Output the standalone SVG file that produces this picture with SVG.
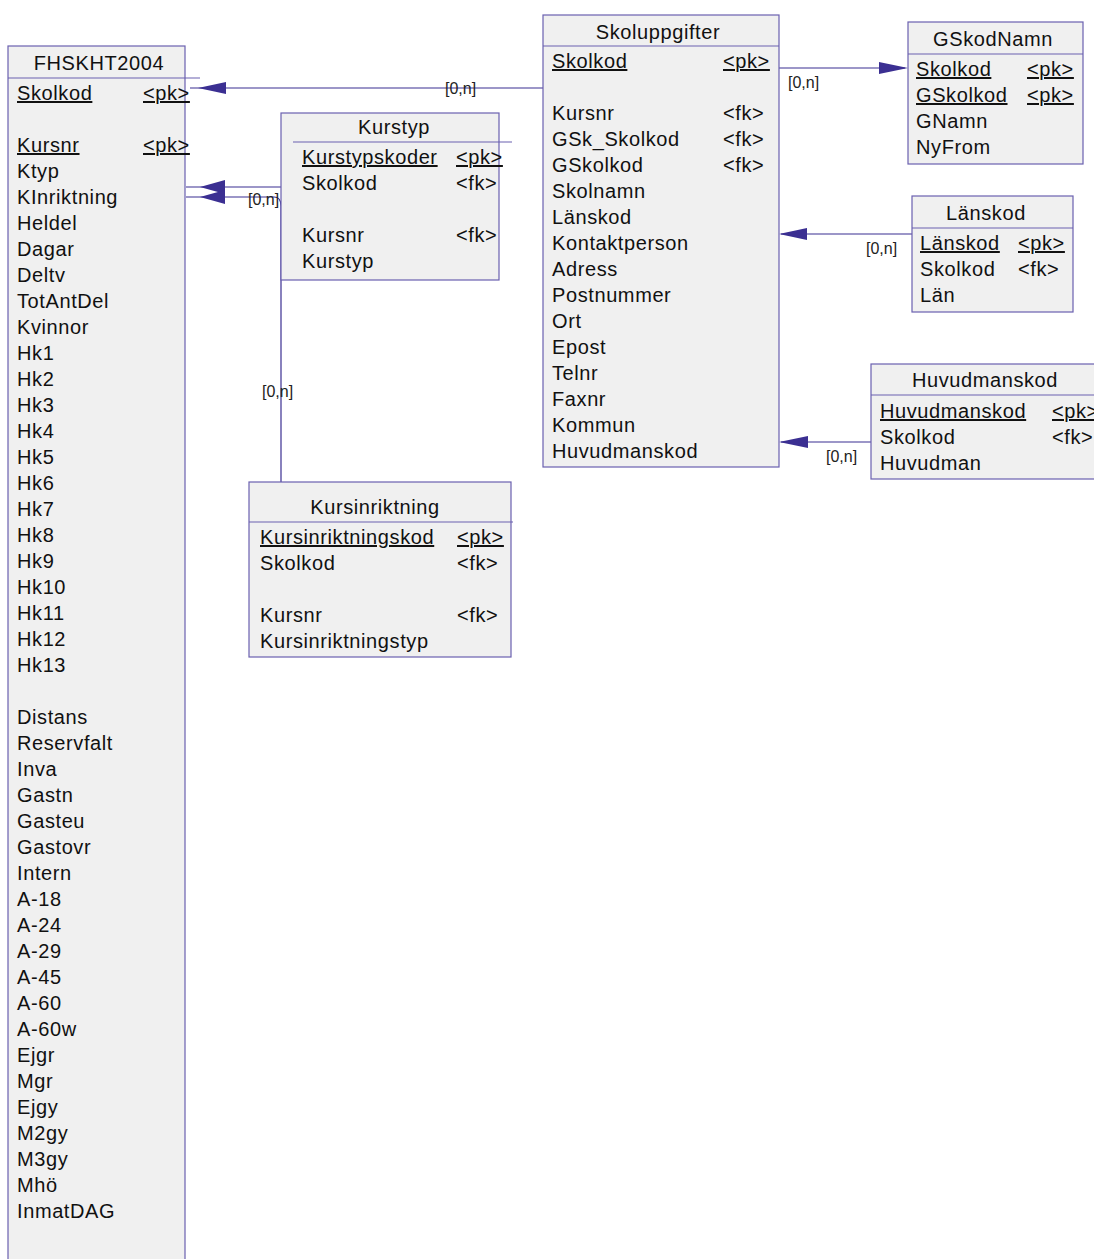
<svg xmlns="http://www.w3.org/2000/svg" width="1094" height="1259" viewBox="0 0 1094 1259">
<style>
.box{fill:#f0f0f0;stroke:#6a60b0;stroke-width:1.2}
.hl{stroke:#6a60b0;stroke-width:1.2}
.t{font-family:"Liberation Sans",Arial,sans-serif;font-size:20px;fill:#111;letter-spacing:0.6px}
.c{text-anchor:middle}
.u{text-decoration:underline}
.con{fill:none;stroke:#3b2f92;stroke-width:1.2}
.ah{fill:#3b2f92;stroke:none}
.lb{font-family:"Liberation Sans",Arial,sans-serif;font-size:16px;fill:#222}
</style>
<rect width="1094" height="1259" fill="#ffffff"/>
<g id="connectors">
<path class="con" d="M543,88 H190"/>
<polygon class="ah" points="198,88 226,82 226,94"/>
<text class="lb" x="445" y="94">[0,n]</text>
<path class="con" d="M281,187 H186"/>
<polygon class="ah" points="200,187 225,180 225,194"/>
<path class="con" d="M281,482 V206 Q281,197 274,197 H186"/>
<polygon class="ah" points="200,197 225,190 225,204"/>
<text class="lb" x="248" y="205">[0,n]</text>
<text class="lb" x="262" y="397">[0,n]</text>
<path class="con" d="M779,68 H905"/>
<polygon class="ah" points="908,68 879,62 879,74"/>
<text class="lb" x="788" y="88">[0,n]</text>
<path class="con" d="M912,234 H781"/>
<polygon class="ah" points="779,234 807,228 807,240"/>
<text class="lb" x="866" y="254">[0,n]</text>
<path class="con" d="M871,442 H781"/>
<polygon class="ah" points="779,442 808,436 808,448"/>
<text class="lb" x="826" y="462">[0,n]</text>
</g>
<g id="FHSKHT2004">
<rect class="box" x="8" y="46" width="177" height="1230"/>
<line class="hl" x1="8" y1="78" x2="200" y2="78"/>
<text class="t c" x="99" y="70">FHSKHT2004</text>
<text class="t u" x="17" y="100">Skolkod</text><text class="t u" x="143" y="100">&lt;pk&gt;</text>
<text class="t u" x="17" y="152">Kursnr</text><text class="t u" x="143" y="152">&lt;pk&gt;</text>
<text class="t" x="17" y="178">Ktyp</text>
<text class="t" x="17" y="204">KInriktning</text>
<text class="t" x="17" y="230">Heldel</text>
<text class="t" x="17" y="256">Dagar</text>
<text class="t" x="17" y="282">Deltv</text>
<text class="t" x="17" y="308">TotAntDel</text>
<text class="t" x="17" y="334">Kvinnor</text>
<text class="t" x="17" y="360">Hk1</text>
<text class="t" x="17" y="386">Hk2</text>
<text class="t" x="17" y="412">Hk3</text>
<text class="t" x="17" y="438">Hk4</text>
<text class="t" x="17" y="464">Hk5</text>
<text class="t" x="17" y="490">Hk6</text>
<text class="t" x="17" y="516">Hk7</text>
<text class="t" x="17" y="542">Hk8</text>
<text class="t" x="17" y="568">Hk9</text>
<text class="t" x="17" y="594">Hk10</text>
<text class="t" x="17" y="620">Hk11</text>
<text class="t" x="17" y="646">Hk12</text>
<text class="t" x="17" y="672">Hk13</text>
<text class="t" x="17" y="724">Distans</text>
<text class="t" x="17" y="750">Reservfalt</text>
<text class="t" x="17" y="776">Inva</text>
<text class="t" x="17" y="802">Gastn</text>
<text class="t" x="17" y="828">Gasteu</text>
<text class="t" x="17" y="854">Gastovr</text>
<text class="t" x="17" y="880">Intern</text>
<text class="t" x="17" y="906">A-18</text>
<text class="t" x="17" y="932">A-24</text>
<text class="t" x="17" y="958">A-29</text>
<text class="t" x="17" y="984">A-45</text>
<text class="t" x="17" y="1010">A-60</text>
<text class="t" x="17" y="1036">A-60w</text>
<text class="t" x="17" y="1062">Ejgr</text>
<text class="t" x="17" y="1088">Mgr</text>
<text class="t" x="17" y="1114">Ejgy</text>
<text class="t" x="17" y="1140">M2gy</text>
<text class="t" x="17" y="1166">M3gy</text>
<text class="t" x="17" y="1192">Mhö</text>
<text class="t" x="17" y="1218">InmatDAG</text>
</g>
<g id="Kurstyp">
<rect class="box" x="281" y="113" width="218" height="167"/>
<line class="hl" x1="293" y1="142" x2="512" y2="142"/>
<text class="t c" x="394" y="134">Kurstyp</text>
<text class="t u" x="302" y="164">Kurstypskoder</text><text class="t u" x="456" y="164">&lt;pk&gt;</text>
<text class="t" x="302" y="190">Skolkod</text><text class="t" x="456" y="190">&lt;fk&gt;</text>
<text class="t" x="302" y="242">Kursnr</text><text class="t" x="456" y="242">&lt;fk&gt;</text>
<text class="t" x="302" y="268">Kurstyp</text>
</g>
<g id="Kursinriktning">
<rect class="box" x="249" y="482" width="262" height="175"/>
<line class="hl" x1="249" y1="522" x2="513" y2="522"/>
<text class="t c" x="375" y="514">Kursinriktning</text>
<text class="t u" x="260" y="544">Kursinriktningskod</text><text class="t u" x="457" y="544">&lt;pk&gt;</text>
<text class="t" x="260" y="570">Skolkod</text><text class="t" x="457" y="570">&lt;fk&gt;</text>
<text class="t" x="260" y="622">Kursnr</text><text class="t" x="457" y="622">&lt;fk&gt;</text>
<text class="t" x="260" y="648">Kursinriktningstyp</text>
</g>
<g id="Skoluppgifter">
<rect class="box" x="543" y="15" width="236" height="452"/>
<line class="hl" x1="543" y1="46" x2="779" y2="46"/>
<text class="t c" x="658" y="39">Skoluppgifter</text>
<text class="t u" x="552" y="68">Skolkod</text><text class="t u" x="723" y="68">&lt;pk&gt;</text>
<text class="t" x="552" y="120">Kursnr</text><text class="t" x="723" y="120">&lt;fk&gt;</text>
<text class="t" x="552" y="146">GSk_Skolkod</text><text class="t" x="723" y="146">&lt;fk&gt;</text>
<text class="t" x="552" y="172">GSkolkod</text><text class="t" x="723" y="172">&lt;fk&gt;</text>
<text class="t" x="552" y="198">Skolnamn</text>
<text class="t" x="552" y="224">Länskod</text>
<text class="t" x="552" y="250">Kontaktperson</text>
<text class="t" x="552" y="276">Adress</text>
<text class="t" x="552" y="302">Postnummer</text>
<text class="t" x="552" y="328">Ort</text>
<text class="t" x="552" y="354">Epost</text>
<text class="t" x="552" y="380">Telnr</text>
<text class="t" x="552" y="406">Faxnr</text>
<text class="t" x="552" y="432">Kommun</text>
<text class="t" x="552" y="458">Huvudmanskod</text>
</g>
<g id="GSkodNamn">
<rect class="box" x="908" y="22" width="175" height="142"/>
<line class="hl" x1="908" y1="54" x2="1083" y2="54"/>
<text class="t c" x="993" y="46">GSkodNamn</text>
<text class="t u" x="916" y="76">Skolkod</text><text class="t u" x="1027" y="76">&lt;pk&gt;</text>
<text class="t u" x="916" y="102">GSkolkod</text><text class="t u" x="1027" y="102">&lt;pk&gt;</text>
<text class="t" x="916" y="128">GNamn</text>
<text class="t" x="916" y="154">NyFrom</text>
</g>
<g id="Lanskod">
<rect class="box" x="912" y="196" width="161" height="116"/>
<line class="hl" x1="912" y1="228" x2="1073" y2="228"/>
<text class="t c" x="986" y="220">Länskod</text>
<text class="t u" x="920" y="250">Länskod</text><text class="t u" x="1018" y="250">&lt;pk&gt;</text>
<text class="t" x="920" y="276">Skolkod</text><text class="t" x="1018" y="276">&lt;fk&gt;</text>
<text class="t" x="920" y="302">Län</text>
</g>
<g id="Huvudmanskod">
<rect class="box" x="871" y="364" width="240" height="115"/>
<line class="hl" x1="871" y1="395" x2="1111" y2="395"/>
<text class="t c" x="985" y="387">Huvudmanskod</text>
<text class="t u" x="880" y="418">Huvudmanskod</text><text class="t u" x="1052" y="418">&lt;pk&gt;</text>
<text class="t" x="880" y="444">Skolkod</text><text class="t" x="1052" y="444">&lt;fk&gt;</text>
<text class="t" x="880" y="470">Huvudman</text>
</g>
</svg>
